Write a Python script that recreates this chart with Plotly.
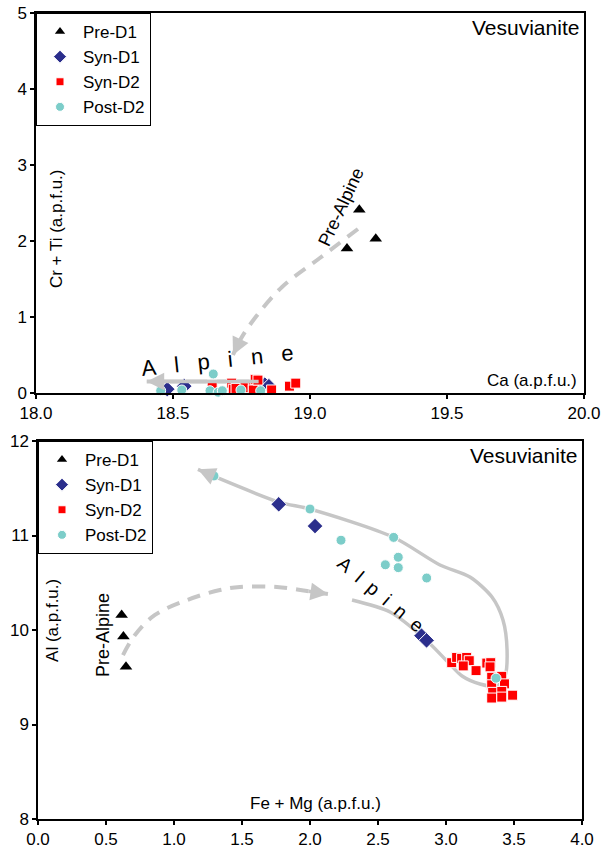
import plotly.graph_objects as go

# ---------------- data: upper panel (Ca vs Cr + Ti) ----------------
top_pre_d1_ca = [19.18, 19.24, 19.135]
top_pre_d1_crti = [2.41, 2.03, 1.90]

top_syn_d1_ca = [18.479, 18.541, 18.835, 18.85]
top_syn_d1_crti = [0.05, 0.09, 0.11, 0.09]

top_syn_d2_ca = [18.643, 18.714, 18.72, 18.73, 18.763, 18.793, 18.793, 18.80, 18.81, 18.86, 18.925, 18.948]
top_syn_d2_crti = [0.105, 0.13, 0.05, 0.06, 0.07, 0.08, 0.04, 0.18, 0.17, 0.04, 0.09, 0.13]

top_post_d2_ca = [18.455, 18.532, 18.647, 18.635, 18.665, 18.68, 18.748, 18.82]
top_post_d2_crti = [0.03, 0.04, 0.25, 0.03, 0.01, 0.03, 0.04, 0.03]

# trend guides, upper panel
top_prealpine_ca = [19.175, 19.036, 18.898, 18.799, 18.745, 18.719]
top_prealpine_crti = [2.158, 1.776, 1.395, 0.987, 0.697, 0.50]
top_alpine_ca = [18.818, 18.404]
top_alpine_crti = [0.15, 0.15]

# ---------------- data: lower panel (Fe + Mg vs Al) ----------------
bot_pre_d1_femg = [0.615, 0.628, 0.647]
bot_pre_d1_al = [10.16, 9.93, 9.61]

bot_syn_d1_femg = [1.77, 2.037, 2.82, 2.857]
bot_syn_d1_al = [11.33, 11.10, 9.94, 9.89]

bot_syn_d2_femg = [3.042, 3.078, 3.115, 3.152, 3.171, 3.127, 3.221, 3.30, 3.329, 3.324,
                   3.336, 3.41, 3.43, 3.336, 3.343, 3.41, 3.49, 3.336, 3.41]
bot_syn_d2_al = [9.654, 9.71, 9.70, 9.71, 9.675, 9.62, 9.57, 9.65, 9.654, 9.61,
                 9.50, 9.51, 9.43, 9.42, 9.34, 9.35, 9.31, 9.28, 9.29]

bot_post_d2_femg = [1.294, 2.0, 2.228, 2.615, 2.649, 2.554, 2.649, 2.858, 3.368]
bot_post_d2_al = [11.63, 11.28, 10.95, 10.98, 10.77, 10.69, 10.66, 10.55, 9.49]

# trend guides, lower panel
bot_alpine_femg = [2.309, 2.588, 2.838, 3.007, 3.118, 3.25, 3.375, 3.434, 3.449, 3.419,
                   3.338, 3.176, 2.956, 2.61, 2.0, 1.772, 1.287, 1.176]
bot_alpine_al = [10.317, 10.19, 9.915, 9.672, 9.513, 9.429, 9.407, 9.513, 9.788, 10.106,
                 10.349, 10.561, 10.688, 10.984, 11.28, 11.354, 11.63, 11.70]
bot_prealpine_femg = [0.625, 0.713, 0.860, 1.096, 1.338, 1.485, 1.757, 1.978, 2.132]
bot_prealpine_al = [9.735, 9.947, 10.159, 10.317, 10.423, 10.455, 10.455, 10.413, 10.381]

top_xticks = [18.0, 18.5, 19.0, 19.5, 20.0]
top_yticks = [0, 1, 2, 3, 4, 5]
bot_xticks = [0.0, 0.5, 1.0, 1.5, 2.0, 2.5, 3.0, 3.5, 4.0]
bot_yticks = [8, 9, 10, 11, 12]

# ---------------- styling ----------------
FONT = "Arial, Liberation Sans, sans-serif"
GUIDE = "#c6c6c6"
W, H = 603, 849

groups = [
    ("Pre-D1", dict(symbol="triangle-up", color="black", size=11, line=dict(width=0))),
    ("Syn-D1", dict(symbol="diamond", color="#2b2e8c", size=12, line=dict(color="white", width=1))),
    ("Syn-D2", dict(symbol="square", color="#ff0000", size=10, line=dict(color="white", width=1))),
    ("Post-D2", dict(symbol="circle", color="#7ccdc9", size=10, line=dict(color="white", width=1))),
]
legend_sizes = [9, 10, 8, 9]

fig = go.Figure()

# guide curves go underneath the symbols
fig.add_trace(go.Scatter(x=top_prealpine_ca, y=top_prealpine_crti, mode="lines",
                         line=dict(color=GUIDE, width=4, dash="13px,9px", shape="spline"),
                         xaxis="x", yaxis="y", showlegend=False, hoverinfo="skip"))
fig.add_trace(go.Scatter(x=top_alpine_ca, y=top_alpine_crti, mode="lines",
                         line=dict(color=GUIDE, width=4),
                         xaxis="x", yaxis="y", showlegend=False, hoverinfo="skip"))
fig.add_trace(go.Scatter(x=bot_alpine_femg, y=bot_alpine_al, mode="lines",
                         line=dict(color=GUIDE, width=3.5, shape="spline", smoothing=0.8),
                         xaxis="x2", yaxis="y2", showlegend=False, hoverinfo="skip"))
fig.add_trace(go.Scatter(x=bot_prealpine_femg, y=bot_prealpine_al, mode="lines",
                         line=dict(color=GUIDE, width=4, dash="13px,9px", shape="spline"),
                         xaxis="x2", yaxis="y2", showlegend=False, hoverinfo="skip"))

top_sets = [(top_pre_d1_ca, top_pre_d1_crti), (top_syn_d1_ca, top_syn_d1_crti),
            (top_syn_d2_ca, top_syn_d2_crti), (top_post_d2_ca, top_post_d2_crti)]
bot_sets = [(bot_pre_d1_femg, bot_pre_d1_al), (bot_syn_d1_femg, bot_syn_d1_al),
            (bot_syn_d2_femg, bot_syn_d2_al), (bot_post_d2_femg, bot_post_d2_al)]

for axes, leg, sets in (("xy", "legend", top_sets), ("x2y2", "legend2", bot_sets)):
    xa, ya = ("x", "y") if axes == "xy" else ("x2", "y2")
    for (name, mk), (xs, ys) in zip(groups, sets):
        fig.add_trace(go.Scatter(x=xs, y=ys, mode="markers", name=name, marker=mk,
                                 xaxis=xa, yaxis=ya, showlegend=False, cliponaxis=False))
    # legend keys with smaller symbols
    for (name, mk), sz in zip(groups, legend_sizes):
        key = dict(mk)
        key["size"] = sz
        fig.add_trace(go.Scatter(x=[None], y=[None], mode="markers", name=name, marker=key,
                                 xaxis=xa, yaxis=ya, legend=leg, hoverinfo="skip"))

# plot-area rectangles in pixels
TOP = dict(l=36, r=584, t=13, b=393)
BOT = dict(l=38, r=582, t=441, b=819)


def dom_x(p):
    return [p["l"] / W, p["r"] / W]


def dom_y(p):
    return [1 - p["b"] / H, 1 - p["t"] / H]


axis_common = dict(showline=True, linecolor="black", linewidth=1.5, mirror=True,
                   ticks="outside", ticklen=4, tickwidth=1.5, tickcolor="black",
                   showgrid=False, zeroline=False, automargin=False,
                   tickfont=dict(family=FONT, size=17, color="black"))

legend_common = dict(xanchor="left", yanchor="top", bgcolor="white",
                     bordercolor="black", borderwidth=1, tracegroupgap=0,
                     itemwidth=36,
                     font=dict(family=FONT, size=17, color="black"))

fig.update_layout(
    width=W, height=H,
    margin=dict(l=0, r=0, t=0, b=0, autoexpand=False),
    paper_bgcolor="white", plot_bgcolor="white",
    font=dict(family=FONT, color="black"),
    xaxis=dict(axis_common, domain=dom_x(TOP), range=[18.0, 20.0], tickvals=top_xticks,
               tickformat=".1f", anchor="y"),
    yaxis=dict(axis_common, domain=dom_y(TOP), range=[0, 5], tickvals=top_yticks, anchor="x"),
    xaxis2=dict(axis_common, domain=dom_x(BOT), range=[0.0, 4.0], tickvals=bot_xticks,
                tickformat=".1f", anchor="y2"),
    yaxis2=dict(axis_common, domain=dom_y(BOT), range=[8, 12], tickvals=bot_yticks, anchor="x2"),
    legend=dict(legend_common, x=TOP["l"] / W, y=1 - TOP["t"] / H),
    legend2=dict(legend_common, x=BOT["l"] / W, y=1 - BOT["t"] / H),
)

NB = "\u00a0"
ann = []


def text(x, y, s, size, xr="x", yr="y", angle=0, xanchor="center", yanchor="middle"):
    ann.append(dict(x=x, y=y, xref=xr, yref=yr, text=s, showarrow=False, textangle=angle,
                    xanchor=xanchor, yanchor=yanchor,
                    font=dict(family=FONT, size=size, color="black")))


def head(x0, y0, x1, y1, xr, yr):
    ann.append(dict(x=x1, y=y1, ax=x0, ay=y0, xref=xr, yref=yr, axref=xr, ayref=yr,
                    text="", showarrow=True, arrowhead=2, arrowsize=1.0, arrowwidth=3.5,
                    arrowcolor=GUIDE, standoff=0))


# upper panel labels
text(0.995, 0.997, "Vesuvianite", 21, "x domain", "y domain", xanchor="right", yanchor="top")
text(19.98, 0.17, "Ca (a.p.f.u.)", 17, xanchor="right")
text(18.077, 2.158, "Cr + Ti (a.p.f.u.)", 17, angle=-90)
text(19.113, 2.447, "Pre-Alpine", 18, angle=-65)
text(18.664, 0.434, (NB * 3).join("Alpine"), 22, angle=-6)
head(top_prealpine_ca[-2], top_prealpine_crti[-2], top_prealpine_ca[-1], top_prealpine_crti[-1], "x", "y")
head(top_alpine_ca[0], top_alpine_crti[0], top_alpine_ca[-1], top_alpine_crti[-1], "x", "y")

# lower panel labels
text(0.995, 0.997, "Vesuvianite", 21, "x2 domain", "y2 domain", xanchor="right", yanchor="top")
text(2.044, 8.159, "Fe + Mg (a.p.f.u.)", 17, "x2", "y2")
text(0.110, 10.106, "Al (a.p.f.u.)", 17, "x2", "y2", angle=-90)
text(0.478, 9.947, "Pre-Alpine", 18, "x2", "y2", angle=-90)
text(2.52, 10.38, (NB * 2).join("Alpine"), 19, "x2", "y2", angle=40)
head(bot_alpine_femg[-2], bot_alpine_al[-2], bot_alpine_femg[-1], bot_alpine_al[-1], "x2", "y2")
head(bot_prealpine_femg[-2], bot_prealpine_al[-2], bot_prealpine_femg[-1], bot_prealpine_al[-1], "x2", "y2")

fig.update_layout(annotations=ann)
fig.write_html("out.html")
